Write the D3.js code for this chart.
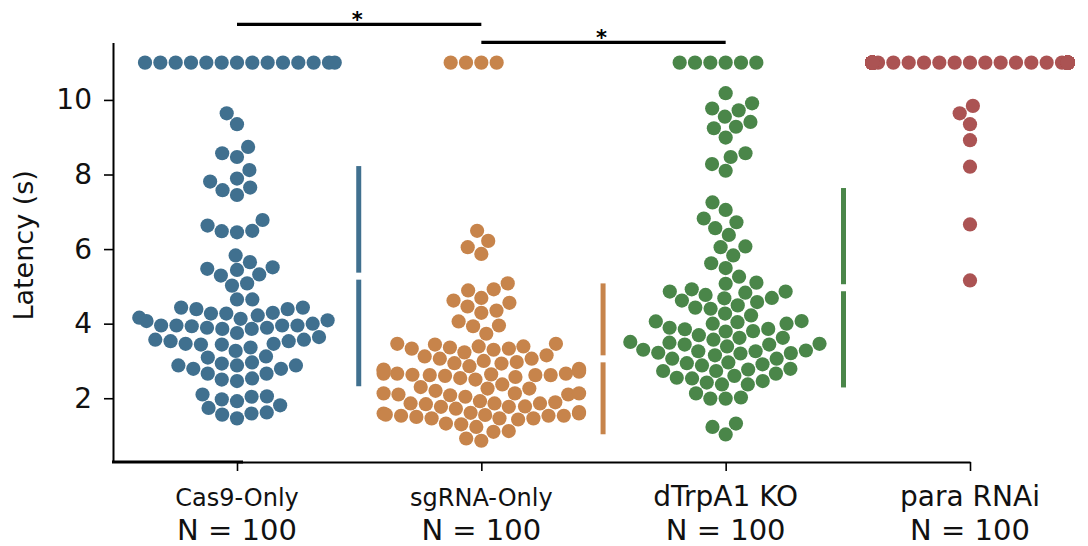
<!DOCTYPE html>
<html>
<head>
<meta charset="utf-8">
<script src="https://cdn.jsdelivr.net/npm/d3@7"></script>
<style>
  body { margin: 0; background: #fff; }
  svg { display: block; font-family: "DejaVu Sans", sans-serif; }
</style>
</head>
<body>
<svg id="chart" width="1088" height="546"></svg>
<script>
var categories = ["Cas9-Only", "sgRNA-Only", "dTrpA1 KO", "para RNAi"];
var nLabels = ["N = 100", "N = 100", "N = 100", "N = 100"];
var yTicks = [2, 4, 6, 8, 10];
var colors = ["#40708f", "#c7844b", "#4a8649", "#ab5353"];

// latency (s) per fly; 11 = no response within the trial
var cas9Latency = [
  11, 11, 11, 11, 11, 11, 11, 11, 11, 11, 11, 11, 11, 11,
  9.64, 9.35, 8.74, 8.57, 8.47, 8.12, 7.89, 7.81, 7.58, 7.65, 7.45, 6.63, 6.48, 6.45, 6.49, 6.78,
  5.83, 5.65, 5.51, 5.47, 5.44, 5.29, 5.32, 5.08, 5.02,
  4.65, 4.65, 4.43, 4.39, 4.39, 4.43, 4.27, 4.22, 4.16, 4.27, 4.29, 4.07, 4.09, 4.13, 4.00,
  3.95, 3.95, 3.93, 3.86, 3.86, 3.89, 3.89, 3.95, 3.95,
  3.75, 3.64, 3.57, 3.53, 3.46, 3.44, 3.44, 3.46, 3.53, 3.57, 3.36, 3.27,
  3.09, 3.12,
  2.88, 2.79, 2.88, 2.88, 2.93, 2.96, 2.79,
  2.66, 2.66, 2.50, 2.46, 2.53,
  2.10, 1.97, 1.92, 2.04, 2.05,
  1.74, 1.81,
  1.56, 1.46, 1.59, 1.62
];
var sgrnaLatency = [
  11, 11, 11, 11,
  6.49, 6.22, 6.05, 5.87,
  5.08, 4.89, 4.92, 4.62, 4.69, 4.56, 4.46, 4.35, 4.29,
  3.93, 3.95, 4.06, 3.73,
  3.44, 3.33, 3.46, 3.39, 3.30, 3.23, 3.33, 3.36, 3.46, 3.39, 3.15,
  3.12, 3.06, 2.94, 2.93, 2.86, 2.97, 3.00, 3.06,
  2.75, 2.66, 2.62, 2.62, 2.60, 2.54, 2.50, 2.57, 2.63, 2.66, 2.62, 2.66, 2.77,
  2.30, 2.10, 2.04, 2.20, 2.26, 2.26, 2.37,
  2.13, 2.13, 2.08, 1.89, 1.77, 1.72, 1.84, 1.86, 1.86, 1.86, 1.92, 2.10, 2.13,
  1.77, 1.59, 1.53, 1.53, 1.46, 1.32, 1.30, 1.59, 1.23, 1.46, 1.50, 1.43, 1.46, 1.53, 1.56, 1.61,
  1.10, 1.12, 0.92, 0.86,
  2.74, 1.78, 2.79, 1.63, 2.71, 1.55, 2.64
];
var trpa1Latency = [
  11, 11, 11, 11, 11, 11,
  10.18, 9.91, 9.77, 9.72, 9.55, 9.41, 9.24, 9.28, 8.99, 8.57, 8.47, 8.28, 8.10,
  7.25, 7.05, 6.82, 6.72, 6.56, 6.38, 6.07, 6.05,
  5.83, 5.62, 5.49, 5.26, 5.10, 5.07,
  4.86, 4.69, 4.58, 4.77, 4.86, 4.62, 4.83, 4.92, 4.68,
  4.43, 4.40, 4.49, 4.22, 4.27,
  4.00, 4.04, 4.07, 4.06, 3.89, 3.80, 3.85, 3.86, 4.00,
  3.69, 3.57, 3.62, 3.79, 3.62,
  3.51, 3.49, 3.44, 3.44, 3.39, 3.46,
  3.30, 3.26, 3.26, 3.20, 3.22, 3.15, 3.21, 3.28,
  3.06, 3.06, 2.96, 2.91, 2.88, 2.94,
  2.73, 2.66, 2.77, 2.79, 2.60, 2.73,
  2.46, 2.42, 2.53, 2.55, 2.37, 2.37,
  2.13, 1.99, 1.99, 2.02,
  1.23, 1.03, 1.32
];
var paraLatency = [
  11, 11, 11, 11, 11, 11, 11, 11, 11, 11,
  11, 11, 11, 11, 11, 11, 11, 11, 11, 11,
  11, 11, 11, 11, 11, 11, 11, 11, 11, 11,
  11, 11, 11, 11, 11, 11, 11, 11, 11, 11,
  11, 11, 11, 11, 11, 11, 11, 11, 11, 11,
  11, 11, 11, 11, 11, 11, 11, 11, 11, 11,
  11, 11, 11, 11, 11, 11, 11, 11, 11, 11,
  11, 11, 11, 11, 11, 11, 11, 11, 11, 11,
  11, 11, 11, 11, 11, 11, 11, 11, 11, 11,
  11, 11, 11,
  9.84, 9.64, 9.35, 8.92, 8.21, 6.66, 5.16
];
var groups = [cas9Latency, sgrnaLatency, trpa1Latency, paraLatency];

// significance brackets: [from, to, label]
var sigPairs = [[0, 1, "*"], [1, 2, "*"]];

var svg = d3.select("#chart");
var dotR = 7.3;

var x = d3.scalePoint().domain(categories).range([237, 970]);
var y = d3.scaleLinear().domain([0.29, 11.54]).range([462, 42.5]);
var halfWidth = x.step() * 0.8 / 2;

// seaborn-style beeswarm, points sorted by value
function swarm(values, cx) {
  var pts = values.map(function(v, i) { return {i: i, v: v, y: y(v), x: cx}; });
  var order = pts.slice().sort(function(a, b) { return a.v - b.v || a.i - b.i; });
  var placed = [];
  order.forEach(function(p, k) {
    if (k === 0) { placed.push(p); return; }
    var nb = [];
    for (var j = placed.length - 1; j >= 0; j--) {
      if (Math.abs(p.y - placed[j].y) < 2 * dotR) nb.unshift(placed[j]);
      else break;
    }
    var cands = [cx];
    var leftFirst = true;
    nb.forEach(function(q) {
      var dy = p.y - q.y;
      var dx = Math.sqrt(Math.max(4 * dotR * dotR - dy * dy, 0)) * 1.05;
      if (leftFirst) cands.push(q.x - dx, q.x + dx);
      else cands.push(q.x + dx, q.x - dx);
      leftFirst = !leftFirst;
    });
    var idx = cands.map(function(c, i) { return i; });
    idx.sort(function(a, b) {
      return (Math.abs(cands[a] - cx) - Math.abs(cands[b] - cx)) || (a - b);
    });
    var chosen = cands[0];
    for (var m = 0; m < idx.length; m++) {
      var cxi = cands[idx[m]];
      var ok = nb.every(function(q) {
        var ddx = q.x - cxi, ddy = q.y - p.y;
        return ddx * ddx + ddy * ddy >= 4 * dotR * dotR - 1e-6;
      });
      if (ok) { chosen = cxi; break; }
    }
    p.x = chosen;
    placed.push(p);
  });
  pts.forEach(function(p) {
    p.x = Math.max(cx - halfWidth, Math.min(cx + halfWidth, p.x));
  });
  return pts;
}

// axes
var yAxis = svg.append("g")
  .attr("transform", "translate(113,0)")
  .call(d3.axisLeft(y).tickValues(yTicks).tickSize(9).tickSizeOuter(0).tickPadding(12));
yAxis.select(".domain").attr("stroke", "#000").attr("stroke-width", 2);
yAxis.selectAll(".tick line").attr("stroke", "#000").attr("stroke-width", 1.6);
yAxis.selectAll(".tick text")
  .attr("font-size", 28)
  .attr("fill", "#111")
  .attr("font-family", "DejaVu Sans, sans-serif");

var xAxis = svg.append("g")
  .attr("transform", "translate(0,462)")
  .call(d3.axisBottom(x).tickSize(9).tickSizeOuter(0).tickFormat(""));
xAxis.select(".domain").attr("stroke", "#000").attr("stroke-width", 1.8);
xAxis.selectAll(".tick line").attr("stroke", "#000").attr("stroke-width", 1.6);

svg.append("line")
  .attr("x1", 112).attr("x2", 243)
  .attr("y1", 462).attr("y2", 462)
  .attr("stroke", "#000").attr("stroke-width", 2.8);

svg.append("text")
  .attr("transform", "translate(33," + y(6.1) + ") rotate(-90)")
  .attr("text-anchor", "middle")
  .attr("font-size", 27)
  .attr("fill", "#111")
  .text("Latency (s)");

// category labels
var lab = svg.append("g").selectAll("g")
  .data(categories)
  .enter().append("g")
  .attr("transform", function(d) { return "translate(" + x(d) + ",0)"; });
lab.append("text")
  .attr("y", 506)
  .attr("text-anchor", "middle")
  .attr("font-size", function(d, i) { return i < 2 ? 24 : 28; })
  .attr("fill", "#111")
  .text(function(d) { return d; });
lab.append("text")
  .attr("y", 540)
  .attr("text-anchor", "middle")
  .attr("font-size", 29)
  .attr("fill", "#111")
  .text(function(d, i) { return nLabels[i]; });

// swarms + mean/sd bars
groups.forEach(function(vals, gi) {
  var cx = x(categories[gi]);
  var pts = swarm(vals, cx);
  var col = colors[gi];
  svg.append("g").selectAll("circle")
    .data(pts)
    .enter().append("circle")
    .attr("cx", function(d) { return d.x; })
    .attr("cy", function(d) { return d.y; })
    .attr("r", dotR - 0.2)
    .attr("fill", col);

  var mean = d3.mean(vals), sd = d3.deviation(vals);
  var bx = d3.max(pts, function(d) { return d.x; }) + 24;
  var gap = 3.5;
  var bar = svg.append("g").attr("stroke", col).attr("stroke-width", 5);
  bar.append("line")
    .attr("x1", bx).attr("x2", bx)
    .attr("y1", y(mean + sd)).attr("y2", y(mean) - gap);
  bar.append("line")
    .attr("x1", bx).attr("x2", bx)
    .attr("y1", y(mean) + gap).attr("y2", y(mean - sd));
});

// significance
var sig = svg.append("g").selectAll("g")
  .data(sigPairs)
  .enter().append("g");
sig.append("line")
  .attr("x1", function(d) { return x(categories[d[0]]); })
  .attr("x2", function(d) { return x(categories[d[1]]); })
  .attr("y1", function(d, i) { return 24.3 + i * 18; })
  .attr("y2", function(d, i) { return 24.3 + i * 18; })
  .attr("stroke", "#000").attr("stroke-width", 3.3);
sig.append("text")
  .attr("x", function(d) { return (x(categories[d[0]]) + x(categories[d[1]])) / 2 - 2; })
  .attr("y", function(d, i) { return 27 + i * 18; })
  .attr("text-anchor", "middle")
  .attr("font-size", 21)
  .attr("font-weight", "bold")
  .attr("fill", "#000")
  .text(function(d) { return d[2]; });
</script>
</body>
</html>
